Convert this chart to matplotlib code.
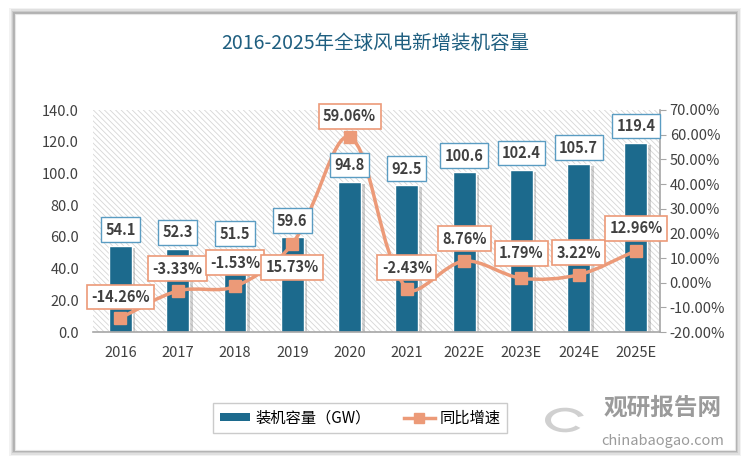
import matplotlib
matplotlib.use('Agg')
import math
import matplotlib.pyplot as plt
import matplotlib.patheffects as pe
from matplotlib.patches import Rectangle, PathPatch, Wedge
from matplotlib.path import Path
from matplotlib.lines import Line2D
from matplotlib.ticker import FuncFormatter

plt.rcParams['font.family'] = ['Noto Sans CJK SC', 'DejaVu Sans']
plt.rcParams['hatch.color'] = '#d6d6d6'
plt.rcParams['hatch.linewidth'] = 0.6

years = ['2016', '2017', '2018', '2019', '2020', '2021', '2022E', '2023E', '2024E', '2025E']
capacity = [54.1, 52.3, 51.5, 59.6, 94.8, 92.5, 100.6, 102.4, 105.7, 119.4]
growth = [-14.26, -3.33, -1.53, 15.73, 59.06, -2.43, 8.76, 1.79, 3.22, 12.96]

bar_color = '#1c6a8d'
line_color = '#ec9a78'
txt_color = '#404040'

fig = plt.figure(figsize=(7.5, 4.61), dpi=100)
fig.patch.set_facecolor('white')

# 外框阴影 + 白色面板
W, H = 750.0, 461.0
for i, a in enumerate([0.05, 0.07, 0.09, 0.12]):
    d = 6 - i * 1.5
    fig.patches.append(Rectangle(((15 - d) / W, (11 - d) / H), (720 + 2 * d) / W, (436 + 2 * d) / H,
                                 transform=fig.transFigure, facecolor='black', alpha=a,
                                 edgecolor='none', zorder=0))
fig.patches.append(Rectangle((15 / W, 11 / H), 720 / W, 436 / H, transform=fig.transFigure,
                             facecolor='white', edgecolor='#e6e6e6', lw=0.8, zorder=1))

fig.text(0.5, 1 - 43 / H, '2016-2025年全球风电新增装机容量', ha='center', va='center',
         fontsize=14, color='#1f5f80')

ax_w, ax_h = 567, 222
ax = fig.add_axes([93 / W, 1 - 332 / H, ax_w / W, ax_h / H])
ax.set_zorder(2)
ax.patch.set_alpha(0)
x = list(range(len(years)))
ax.set_xlim(-0.48, 9.42)
ax.set_ylim(0, 140)

# 斜线底纹
ax.add_patch(Rectangle((0, 0), 1, 1, transform=ax.transAxes, facecolor='white',
                       hatch='\\\\\\\\\\\\', edgecolor='#d6d6d6', lw=0, zorder=0))

bars = ax.bar(x, capacity, width=0.4, color=bar_color, edgecolor='white', lw=1, zorder=2)
for b in bars:
    b.set_path_effects([pe.SimplePatchShadow(offset=(2.5, -1.5), shadow_rgbFace='#666666', alpha=0.3),
                        pe.Normal()])

ax.set_yticks(range(0, 141, 20))
ax.yaxis.set_major_formatter(FuncFormatter(lambda v, p: f'{v:.1f}'))
ax.set_xticks(x)
ax.set_xticklabels(years)
ax.tick_params(axis='y', length=0, labelsize=10.5, labelcolor=txt_color, pad=10)
ax.tick_params(axis='x', length=0, labelsize=10.5, labelcolor=txt_color, pad=10)
for s in ['top', 'right', 'left']:
    ax.spines[s].set_visible(False)
ax.spines['bottom'].set_color('#a6a6a6')
ax.spines['bottom'].set_linewidth(1.2)

ax2 = ax.twinx()
ax2.set_zorder(3)
ax2.set_ylim(-20, 70)
ax2.set_yticks(range(-20, 71, 10))
ax2.yaxis.set_major_formatter(FuncFormatter(lambda v, p: f'{v:.2f}%'))
ax2.tick_params(axis='y', length=4, color='#a6a6a6', labelsize=10.5, labelcolor=txt_color, pad=3)
for s in ['top', 'left', 'bottom']:
    ax2.spines[s].set_visible(False)
ax2.spines['right'].set_color('#a6a6a6')
ax2.spines['right'].set_linewidth(1.2)

# 平滑折线（按屏幕距离加权的贝塞尔控制点，类似 Excel 平滑线）
sx = ax_w / 9.9
sy = ax_h / 90.0
pts = list(zip(x, growth))


def dist(a, b):
    return math.hypot((a[0] - b[0]) * sx, (a[1] - b[1]) * sy)


verts = [pts[0]]
codes = [Path.MOVETO]
for i in range(len(pts) - 1):
    p0 = pts[i - 1] if i > 0 else pts[i]
    p1, p2 = pts[i], pts[i + 1]
    p3 = pts[i + 2] if i + 2 < len(pts) else pts[i + 1]
    d01, d12, d23 = dist(p0, p1), dist(p1, p2), dist(p2, p3)
    f1 = d12 / (d01 + d12) / 3 if d01 > 0 else 1 / 3
    f2 = d12 / (d12 + d23) / 3 if d23 > 0 else 1 / 3
    c1 = (p1[0] + (p2[0] - p0[0]) * f1, p1[1] + (p2[1] - p0[1]) * f1)
    c2 = (p2[0] - (p3[0] - p1[0]) * f2, p2[1] - (p3[1] - p1[1]) * f2)
    verts += [c1, c2, p2]
    codes += [Path.CURVE4] * 3
ax2.add_patch(PathPatch(Path(verts, codes), fc='none', ec=line_color, lw=2.5, zorder=3))
ax2.plot(x, growth, ls='none', marker='s', ms=8, color=line_color, zorder=4)

# 柱形数据标签（在折线上方）
for xi, v in zip(x, capacity):
    ax2.annotate(f'{v:.1f}', (xi, v), xycoords=ax.transData, xytext=(0, 12),
                 textcoords='offset points', ha='center', va='center', fontsize=10.5,
                 color=txt_color, fontweight='bold',
                 bbox=dict(boxstyle='square,pad=0.3', fc='white', ec='#5a9cc2', lw=1),
                 zorder=5)

offsets = [(0, 15), (0, 16), (0, 17), (0, -17), (0, 15), (0, 15), (0, 16), (0, 18), (0, 16), (0, 16)]
for xi, v, off in zip(x, growth, offsets):
    ax2.annotate(f'{v:.2f}%', (xi, v), xytext=off, textcoords='offset points',
                 ha='center', va='center', fontsize=10.5, color=txt_color, fontweight='bold',
                 bbox=dict(boxstyle='square,pad=0.3', fc='white', ec=line_color, lw=1.2),
                 zorder=6)

# 图例
handles = [Rectangle((0, 0), 1, 1, fc=bar_color, ec='none'),
           Line2D([], [], color=line_color, lw=2.5, marker='s', ms=7)]
leg = fig.legend(handles, ['装机容量（GW）', '同比增速'], loc='center',
                 bbox_to_anchor=(360 / W, 1 - 418 / H), ncol=2, frameon=True, fancybox=False,
                 fontsize=11, handlelength=2.0, handleheight=0.45, handletextpad=0.3,
                 columnspacing=2.2, borderpad=0.45)
leg.get_frame().set_edgecolor('#bfbfbf')
leg.get_frame().set_linewidth(1)

# 水印
fig.patches.append(Wedge((565 / W, 1 - 420 / H), 20 / W, 20, 320, width=6 / W,
                         transform=fig.transFigure, fc='#d0d0d0', ec='none', zorder=2))
fig.text(663 / W, 1 - 408 / H, '观研报告网', ha='center', va='center', fontsize=17,
         fontweight='bold', color='#9b9b9b')
fig.text(663 / W, 1 - 441 / H, 'chinabaogao.com', ha='center', va='center', fontsize=10.5,
         color='#9b9b9b')

fig.savefig('out.png', dpi=100, facecolor='white')
